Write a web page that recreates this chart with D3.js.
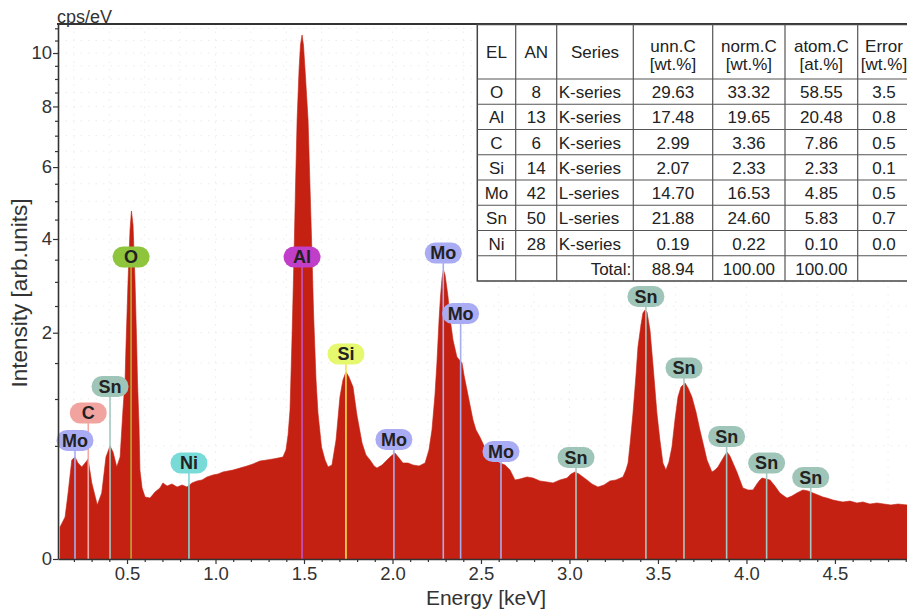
<!DOCTYPE html>
<html><head><meta charset="utf-8">
<script src="https://cdn.jsdelivr.net/npm/d3@7"></script>
<style>
body{margin:0;background:#fff}
svg{display:block}
text{font-family:"Liberation Sans",Arial,Helvetica,sans-serif}
</style>
</head><body>
<svg id="chart" width="907" height="609"></svg>
<script>
// ---- spectrum data (keV, cps/eV) ----
const energy = [0.1215,0.150,0.167,0.188,0.206,0.223,0.244,0.268,0.280,0.301,0.332,0.357,0.381,0.404,0.421,0.442,0.461,0.477,0.489,0.494,0.506,0.517,0.525,0.534,0.545,0.555,0.559,0.568,0.573,0.585,0.602,0.630,0.658,0.686,0.703,0.726,0.754,0.783,0.811,0.839,0.867,0.896,0.924,0.952,0.986,1.014,1.042,1.071,1.099,1.138,1.178,1.212,1.251,1.291,1.325,1.353,1.381,1.398,1.410,1.421,1.432,1.444,1.452,1.461,1.472,1.480,1.489,1.497,1.506,1.523,1.534,1.545,1.554,1.568,1.579,1.599,1.619,1.636,1.658,1.681,1.703,1.720,1.737,1.754,1.777,1.799,1.828,1.850,1.873,1.896,1.912,1.941,1.969,1.992,2.014,2.037,2.059,2.088,2.116,2.150,2.184,2.206,2.223,2.240,2.251,2.263,2.271,2.280,2.288,2.297,2.305,2.314,2.325,2.342,2.364,2.393,2.404,2.421,2.438,2.455,2.472,2.494,2.523,2.551,2.579,2.607,2.636,2.664,2.692,2.720,2.760,2.794,2.833,2.873,2.907,2.946,2.986,3.009,3.031,3.054,3.076,3.099,3.127,3.161,3.195,3.229,3.263,3.302,3.319,3.331,3.342,3.359,3.376,3.387,3.404,3.415,3.427,3.438,3.455,3.472,3.494,3.511,3.528,3.545,3.562,3.579,3.596,3.613,3.630,3.653,3.670,3.692,3.715,3.737,3.760,3.777,3.805,3.822,3.839,3.862,3.879,3.890,3.907,3.924,3.946,3.963,3.980,4.009,4.037,4.059,4.076,4.088,4.110,4.133,4.161,4.189,4.212,4.229,4.257,4.285,4.319,4.348,4.376,4.404,4.432,4.455,4.489,4.517,4.545,4.585,4.624,4.658,4.698,4.737,4.777,4.816,4.856,4.910];
const counts = [0.040,0.069,0.170,0.383,0.406,0.360,0.331,0.368,0.391,0.226,0.114,0.170,0.406,0.499,0.447,0.331,0.406,0.867,1.252,1.756,3.041,4.228,4.731,4.358,3.041,1.756,1.252,0.681,0.309,0.197,0.150,0.145,0.175,0.197,0.226,0.208,0.220,0.2025,0.214,0.2025,0.226,0.238,0.244,0.263,0.276,0.282,0.296,0.3025,0.309,0.323,0.338,0.353,0.375,0.383,0.391,0.398,0.406,0.464,0.601,0.867,1.873,3.658,5.406,7.528,9.341,10.320,10.726,10.320,9.341,7.528,5.406,3.658,2.364,1.252,0.833,0.490,0.383,0.331,0.345,0.553,1.025,1.252,1.366,1.294,1.156,0.810,0.526,0.4225,0.383,0.338,0.323,0.345,0.383,0.414,0.439,0.398,0.360,0.360,0.345,0.338,0.360,0.464,0.650,1.051,1.501,2.231,2.681,3.084,3.263,3.151,2.933,2.681,2.269,1.873,1.594,1.501,1.3225,1.116,0.926,0.755,0.650,0.581,0.481,0.406,0.383,0.360,0.345,0.309,0.244,0.250,0.263,0.256,0.238,0.2316,0.226,0.244,0.256,0.282,0.296,0.282,0.263,0.244,0.220,0.2025,0.214,0.238,0.244,0.263,0.309,0.360,0.508,0.833,1.3225,1.756,2.139,2.364,2.422,2.383,2.048,1.470,0.833,0.553,0.360,0.309,0.368,0.490,0.755,1.025,1.156,1.210,1.142,1.025,0.844,0.650,0.490,0.383,0.296,0.309,0.331,0.383,0.4225,0.447,0.414,0.360,0.296,0.244,0.197,0.186,0.186,0.220,0.244,0.256,0.250,0.244,0.208,0.170,0.155,0.145,0.155,0.170,0.186,0.181,0.170,0.160,0.150,0.145,0.136,0.131,0.127,0.131,0.1225,0.127,0.118,0.1225,0.118,0.114,0.118,0.114];

// ---- axes ----
const xTickValues = [0.5,1.0,1.5,2.0,2.5,3.0,3.5,4.0,4.5];
const yTickValues = [0,2,4,6,8,10];

// ---- peak markers ----
const peakElements = ["Mo","C","Sn","O","Ni","Al","Si","Mo","Mo","Mo","Mo","Sn","Sn","Sn","Sn","Sn","Sn"];
const peakEnergies = [0.206,0.281,0.404,0.523,0.850,1.489,1.737,2.008,2.287,2.385,2.613,3.037,3.432,3.647,3.888,4.114,4.363];
const labelLevels  = [0.549,0.833,1.162,3.563,0.360,3.563,1.642,0.558,3.658,2.354,0.451,0.402,2.692,1.425,0.586,0.360,0.259];

// ---- quantification table ----
const tableHeaders = [["EL"],["AN"],["Series"],["unn.C","[wt.%]"],["norm.C","[wt.%]"],["atom.C","[at.%]"],["Error","[wt.%]"]];
const tableEL = ["O","Al","C","Si","Mo","Sn","Ni"];
const tableAN = ["8","13","6","14","42","50","28"];
const tableSeries = ["K-series","K-series","K-series","K-series","L-series","L-series","K-series"];
const tableUnnC = ["29.63","17.48","2.99","2.07","14.70","21.88","0.19"];
const tableNormC = ["33.32","19.65","3.36","2.33","16.53","24.60","0.22"];
const tableAtomC = ["58.55","20.48","7.86","2.33","4.85","5.83","0.10"];
const tableError = ["3.5","0.8","0.5","0.1","0.5","0.7","0.0"];
const tableTotals = ["Total:","88.94","100.00","100.00"];

// ---- styles ----
const pillFill = {Mo:"#a9abf3",C:"#f1a3a0",Sn:"#9fc5b8",O:"#8ec53d",Ni:"#79dbd8",Al:"#c13ec9",Si:"#e6f86e"};
const lineCol  = {Mo:"#a7aef0",C:"#f2a8a4",Sn:"#a6c8c0",O:"#b9a936",Ni:"#7fd6d6",Al:"#c653c6",Si:"#f2e64a"};
const axisCol = "#333";

const svg = d3.select("#chart");
const x = d3.scaleLinear().domain([0.11, 4.91]).range([58, 907.5]);
const y = d3.scaleSqrt().domain([0, 11.18]).range([559, 24]);

// grid (faint dotted)
const grid = svg.append("g");
grid.selectAll("line.h").data(d3.range(0.5, 11.01, 0.5)).join("line")
  .attr("x1", 58).attr("x2", 907).attr("y1", d => y(d)).attr("y2", d => y(d))
  .attr("stroke", "#ececec").attr("stroke-width", 1).attr("stroke-dasharray", "1.5,6");
grid.selectAll("line.v").data(d3.range(0.2, 4.91, 0.2)).join("line")
  .attr("y1", 24).attr("y2", 559).attr("x1", d => x(d)).attr("x2", d => x(d))
  .attr("stroke", "#ececec").attr("stroke-width", 1).attr("stroke-dasharray", "1.5,6");

// spectrum
const spec = energy.map((e, i) => ({e, c: counts[i]}));
const area = d3.area().x(d => x(d.e)).y0(y(0)).y1(d => y(d.c)).curve(d3.curveLinear);
svg.append("path").datum(spec).attr("d", area).attr("fill", "#c42113")
  .attr("stroke", "#c42113").attr("stroke-width", 0.6);

// peak marker lines
const peaks = peakElements.map((el, i) => ({el, e: peakEnergies[i], lv: labelLevels[i]}));
svg.append("g").selectAll("line").data(peaks).join("line")
  .attr("x1", d => x(d.e)).attr("x2", d => x(d.e))
  .attr("y1", d => y(d.lv) + 9).attr("y2", y(0))
  .attr("stroke", d => lineCol[d.el]).attr("stroke-width", 1.6);

// pills
const pg = svg.append("g").selectAll("g").data(peaks).join("g")
  .attr("transform", d => `translate(${x(d.e)},${y(d.lv)})`);
pg.append("rect").attr("x", -18.5).attr("y", -10.5).attr("width", 37).attr("height", 21)
  .attr("rx", 10.5).attr("fill", d => pillFill[d.el]);
pg.append("text").text(d => d.el).attr("text-anchor", "middle").attr("dy", "0.36em")
  .attr("font-size", 18).attr("font-weight", "bold").attr("fill", "#222");

// axes
const yAxis = svg.append("g").attr("transform", "translate(58,0)")
  .call(d3.axisLeft(y).tickValues(yTickValues).tickSize(5).tickSizeOuter(0).tickPadding(1).tickFormat(d3.format("d")));
const yMinor = svg.append("g").attr("transform", "translate(58,0)")
  .call(d3.axisLeft(y).tickValues(d3.range(0.5, 11.01, 0.5).filter(v => v % 2 !== 0)).tickSize(3).tickSizeOuter(0).tickFormat(""));
const xAxis = svg.append("g").attr("transform", "translate(0,559)")
  .call(d3.axisBottom(x).tickValues(xTickValues).tickSize(5).tickSizeOuter(0).tickPadding(3).tickFormat(d3.format(".1f")));
const xMinor = svg.append("g").attr("transform", "translate(0,559)")
  .call(d3.axisBottom(x).tickValues(d3.range(2, 50).map(v => v / 10).filter(v => Math.round(v * 10) % 5 !== 0)).tickSize(3).tickSizeOuter(0).tickFormat(""));
[yAxis, yMinor, xAxis, xMinor].forEach(g => {
  g.select(".domain").attr("stroke", axisCol).attr("stroke-width", 1.6);
  g.selectAll(".tick line").attr("stroke", axisCol).attr("stroke-width", 1.2);
  g.selectAll(".tick text").attr("font-size", 18.5).attr("fill", "#333")
    .attr("font-family", '"Liberation Sans",Arial,sans-serif');
});
yMinor.select(".domain").remove();
xMinor.select(".domain").remove();

// frame top
svg.append("line").attr("x1", 57).attr("x2", 907).attr("y1", 24).attr("y2", 24)
  .attr("stroke", axisCol).attr("stroke-width", 2);

// axis titles
svg.append("text").text("Energy [keV]").attr("x", 486).attr("y", 605)
  .attr("text-anchor", "middle").attr("font-size", 21).attr("fill", "#333");
svg.append("text").text("Intensity [arb.units]")
  .attr("transform", "translate(27,293) rotate(-90)")
  .attr("text-anchor", "middle").attr("font-size", 22.5).attr("fill", "#333");
svg.append("text").text("cps/eV").attr("x", 57).attr("y", 23)
  .attr("font-size", 18).attr("fill", "#333");

// table
const colEdges = [477.3, 515.7, 556.7, 633.3, 712.7, 785, 857.7, 925];
const hTop = 24.5, hBot = 79, rowH = 25.25;
const nRows = tableEL.length + 1;
const tBot = hBot + nRows * rowH;
const tg = svg.append("g");
tg.append("rect").attr("x", colEdges[0]).attr("y", hTop).attr("width", 907 - colEdges[0] + 20)
  .attr("height", tBot - hTop).attr("fill", "#fff").attr("stroke", "#444").attr("stroke-width", 1.5);
colEdges.slice(1, -1).forEach(cx => {
  tg.append("line").attr("x1", cx).attr("x2", cx).attr("y1", hTop).attr("y2", tBot)
    .attr("stroke", "#555").attr("stroke-width", 1.2);
});
d3.range(0, nRows).forEach(i => {
  const yy = hBot + i * rowH;
  tg.append("line").attr("x1", colEdges[0]).attr("x2", 907).attr("y1", yy).attr("y2", yy)
    .attr("stroke", "#555").attr("stroke-width", 1.2);
});
const colMid = i => (colEdges[i] + colEdges[i + 1]) / 2;
tableHeaders.forEach((h, i) => {
  const cx = i === 6 ? 884 : colMid(i);
  h.forEach((line, j) => {
    const cy = h.length === 1 ? (hTop + hBot) / 2 : 46 + j * 18;
    tg.append("text").text(line).attr("x", cx).attr("y", cy).attr("dy", "0.36em")
      .attr("text-anchor", "middle").attr("font-size", 17).attr("fill", "#222");
  });
});
const cols = [tableEL, tableAN, tableSeries, tableUnnC, tableNormC, tableAtomC, tableError];
cols.forEach((col, ci) => {
  col.forEach((val, ri) => {
    const cy = hBot + ri * rowH + rowH / 2 + 0.5;
    let cx = ci === 6 ? 884 : colMid(ci), anchor = "middle";
    if (ci === 2) { cx = colEdges[2] + 2; anchor = "start"; }
    tg.append("text").text(val).attr("x", cx).attr("y", cy).attr("dy", "0.36em")
      .attr("text-anchor", anchor).attr("font-size", 17).attr("fill", "#222");
  });
});
{
  const cy = hBot + tableEL.length * rowH + rowH / 2 + 0.5;
  tableTotals.forEach((val, k) => {
    const ci = k + 2;
    const cx = ci === 2 ? colEdges[3] - 2 : colMid(ci);
    tg.append("text").text(val).attr("x", cx).attr("y", cy).attr("dy", "0.36em")
      .attr("text-anchor", ci === 2 ? "end" : "middle").attr("font-size", 17).attr("fill", "#222");
  });
}
</script>
</body></html>
